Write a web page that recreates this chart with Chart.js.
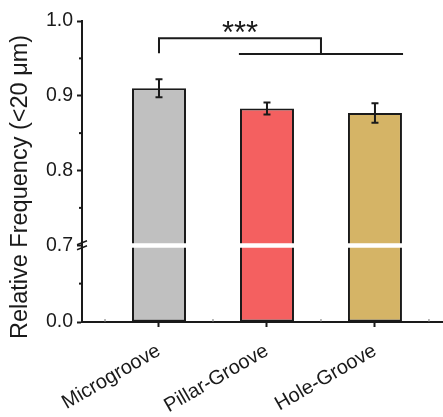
<!DOCTYPE html>
<html><head><meta charset="utf-8">
<script src="https://cdn.jsdelivr.net/npm/chart.js@4.4.1/dist/chart.umd.min.js"></script>
<style>html,body{margin:0;padding:0;background:#fff}#wrap{width:443px;height:417px;position:relative}</style>
</head><body><div id="wrap"><canvas id="c"></canvas></div>
<script>
// ---- data ----
const categories = ['Microgroove', 'Pillar-Groove', 'Hole-Groove'];
const values = [0.910, 0.883, 0.877];
const errors = [0.012, 0.008, 0.013];
const barColors = ['#c0c0c0', '#f46060', '#d5b466'];
const yTickValues = [0.0, 0.7, 0.8, 0.9, 1.0];
const yMinorValues = [0.35, 0.75, 0.85, 0.95];
const xMinorValues = [-0.5, 0.5, 1.5, 2.5];
const yBreak = 0.7;
const yTitle = 'Relative Frequency (<20 μm)';
const sigLabel = '***';
// significance brackets in data units
const bracketTop = { x0: 0, x1: 1.5, y: 0.977, leg: 0.957 };
const bracketLow = { x0: 0.74, x1: 2.26, y: 0.956 };
const sigPos = { x: 0.75 };

const FAMILY = "'Liberation Sans', Arial, sans-serif";
const INK = '#1a1a1a';

// ---- piecewise (broken) linear scale ----
class BrokenLinearScale extends Chart.LinearScale {
  static id = 'brokenLinear';
  static defaults = {};
  getPixelForValue(v) {
    const b = this.options.breakValue, f = this.options.lowerFraction;
    const H = this.bottom - this.top, hl = H * f;
    if (v <= b) return this.bottom - (v - this.min) / (b - this.min) * hl;
    return this.bottom - hl - (v - b) / (this.max - b) * (H - hl);
  }
  getValueForPixel(p) {
    const b = this.options.breakValue, f = this.options.lowerFraction;
    const H = this.bottom - this.top, hl = H * f;
    const d = this.bottom - p;
    if (d <= hl) return this.min + d / hl * (b - this.min);
    return b + (d - hl) / (H - hl) * (this.max - b);
  }
}
Chart.register(BrokenLinearScale);

const overlay = {
  id: 'overlay',
  afterDatasetsDraw(chart) {
    const { ctx, chartArea, scales: { x, y } } = chart;
    ctx.save();
    // error bars
    ctx.strokeStyle = INK; ctx.lineWidth = 2;
    values.forEach((v, i) => {
      const px = x.getPixelForValue(i);
      const yt = y.getPixelForValue(v + errors[i]);
      const yb = y.getPixelForValue(v - errors[i]);
      ctx.beginPath();
      ctx.moveTo(px, yt); ctx.lineTo(px, yb);
      ctx.moveTo(px - 3.5, yt); ctx.lineTo(px + 3.5, yt);
      ctx.moveTo(px - 3.5, yb); ctx.lineTo(px + 3.5, yb);
      ctx.stroke();
    });
    // break gap
    const yb = y.getPixelForValue(yBreak);
    ctx.fillStyle = '#fff';
    ctx.fillRect(chartArea.left + 2, yb - 2, chartArea.right - chartArea.left, 4.5);
    ctx.restore();
  },
  afterDraw(chart) {
    const { ctx, chartArea, scales: { x, y } } = chart;
    ctx.save();
    ctx.strokeStyle = INK; ctx.lineWidth = 2;
    const ax = chartArea.left;
    // y minor ticks
    yMinorValues.forEach(v => {
      const py = y.getPixelForValue(v);
      ctx.beginPath(); ctx.moveTo(ax - 3, py); ctx.lineTo(ax, py); ctx.stroke();
    });
    // x minor ticks (inward)
    ctx.lineWidth = 1; ctx.strokeStyle = '#777';
    xMinorValues.forEach(v => {
      const px = x.getPixelForValue(v);
      ctx.beginPath(); ctx.moveTo(px, chartArea.bottom); ctx.lineTo(px, chartArea.bottom - 3); ctx.stroke();
    });
    // axis break marks
    ctx.strokeStyle = INK; ctx.lineWidth = 1.5;
    const yb = y.getPixelForValue(yBreak);
    [-2.5, 2.5].forEach(o => {
      ctx.beginPath(); ctx.moveTo(ax - 5, yb + o + 2); ctx.lineTo(ax + 5, yb + o - 2); ctx.stroke();
    });
    // brackets
    ctx.lineWidth = 2;
    const t0 = x.getPixelForValue(bracketTop.x0), t1 = x.getPixelForValue(bracketTop.x1);
    const ty = y.getPixelForValue(bracketTop.y), tl = y.getPixelForValue(bracketTop.leg);
    const l0 = x.getPixelForValue(bracketLow.x0), l1 = x.getPixelForValue(bracketLow.x1);
    const ly = y.getPixelForValue(bracketLow.y);
    ctx.beginPath();
    ctx.moveTo(t0, tl); ctx.lineTo(t0, ty); ctx.lineTo(t1, ty); ctx.lineTo(t1, ly);
    ctx.moveTo(l0, ly); ctx.lineTo(l1, ly);
    ctx.stroke();
    // stars
    ctx.fillStyle = INK;
    ctx.font = `31px ${FAMILY}`;
    ctx.textAlign = 'center'; ctx.textBaseline = 'alphabetic';
    ctx.fillText(sigLabel, x.getPixelForValue(sigPos.x), ty + 5);
    // y title
    ctx.save();
    ctx.translate(21, 187);
    ctx.rotate(-Math.PI / 2);
    ctx.font = `23.5px ${FAMILY}`;
    ctx.textAlign = 'center'; ctx.textBaseline = 'middle';
    ctx.fillText(yTitle, 0, 0);
    ctx.restore();
    ctx.restore();
  }
};

new Chart(document.getElementById('c'), {
  type: 'bar',
  data: {
    datasets: [{
      data: categories.map((c, i) => ({ x: i, y: values[i] })),
      backgroundColor: barColors,
      borderColor: INK,
      borderWidth: 2,
      borderSkipped: false,
      barPercentage: 0.5,
      categoryPercentage: 1.0
    }]
  },
  options: {
    responsive: true,
    maintainAspectRatio: false,
    animation: false,
    layout: { padding: { top: 21, right: 0, bottom: 0, left: 0 } },
    plugins: { legend: { display: false }, tooltip: { enabled: false } },
    scales: {
      x: {
        type: 'linear', min: -0.713, max: 2.63, offset: false,
        afterBuildTicks: s => { s.ticks = categories.map((c, i) => ({ value: i })); },
        afterFit: s => { s.height = 95; },
        ticks: {
          autoSkip: false, minRotation: 30, maxRotation: 30,
          callback: v => categories[v],
          font: { size: 20, family: FAMILY }, color: INK, padding: 12
        },
        grid: { drawOnChartArea: false, drawTicks: true, tickLength: 5, tickColor: INK, tickWidth: 2, offset: false },
        border: { color: INK, width: 2 }
      },
      y: {
        type: 'brokenLinear', min: 0, max: 1, breakValue: yBreak, lowerFraction: 0.255,
        afterBuildTicks: s => { s.ticks = yTickValues.map(v => ({ value: v })); },
        afterFit: s => { s.width = 82; },
        ticks: {
          autoSkip: false,
          callback: v => Number(v).toFixed(1),
          font: { size: 19.5, family: FAMILY }, color: INK, padding: 4
        },
        grid: { drawOnChartArea: false, drawTicks: true, tickLength: 5, tickColor: INK, tickWidth: 2 },
        border: { color: INK, width: 2 }
      }
    }
  },
  plugins: [overlay]
});
</script>
</body></html>
